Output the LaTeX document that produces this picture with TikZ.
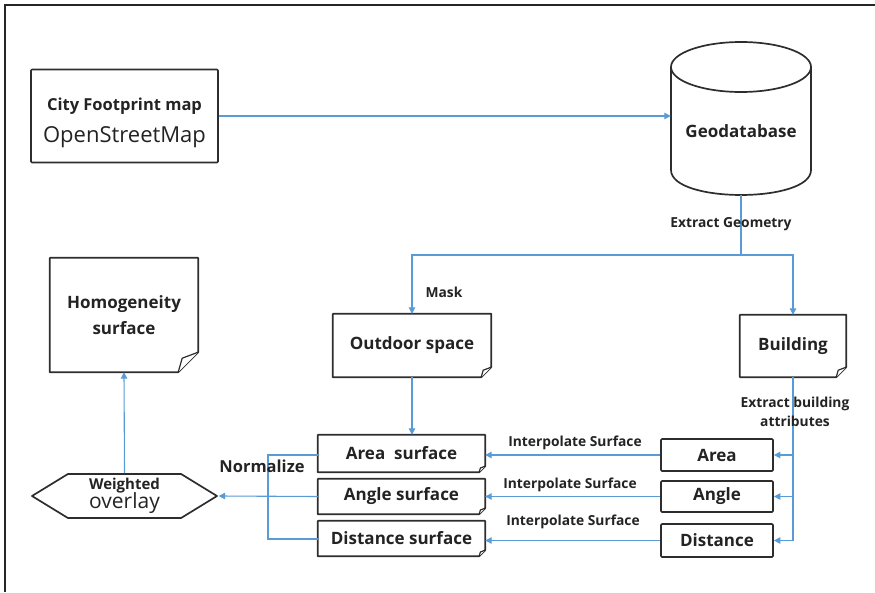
\documentclass[tikz,border=0pt]{standalone}
\usepackage{fontspec}
\setmainfont{Open Sans}
\usetikzlibrary{arrows.meta,calc,shapes.symbols}
\definecolor{conncol}{RGB}{88,155,214}
\definecolor{boxcol}{RGB}{45,45,45}
\definecolor{txtcol}{RGB}{35,35,35}
\tikzset{
  boxline/.style={draw=boxcol,line width=1.7pt,line join=round},
  plainbox/.style={boxline,rounded corners=1pt,inner sep=0pt,text=txtcol,align=center,font=\bfseries\fontsize{17}{20}\selectfont},
  docnode/.style={inner sep=0pt,text=txtcol,align=center,font=\bfseries\fontsize{17}{21}\selectfont},
  conn/.style={draw=conncol,line width=1.1pt},
  arr/.style={conn,-{Triangle[length=6.5pt,width=6.5pt]}},
  lbl/.style={text=txtcol,font=\bfseries\fontsize{13.8}{19}\selectfont,inner sep=0pt,align=center},
}
\newcommand\docframe[2]{%
  \draw[boxline] (#1.north west) -- (#1.north east) -- ([yshift=#2]#1.south east)
     -- ([xshift=-#2]#1.south east) -- (#1.south west) -- cycle;
  \draw[boxline,line width=1.2pt,fill=white] ([xshift=-#2]#1.south east)
     -- ([xshift=-0.8*#2,yshift=0.7*#2]#1.south east) -- ([yshift=#2]#1.south east);
}
\begin{document}
\begin{tikzpicture}[x=1pt,y=-1pt]
\useasboundingbox (0,0) rectangle (875,592);
% frame
\draw[line width=2pt,draw=black!85] (875,5) -- (5,5) -- (5,592);

% top row
\node[plainbox,minimum width=187pt,minimum height=93pt] (city) at (124.5,116)
  {\fontsize{16.5}{19}\selectfont \raisebox{0pt}[27pt]{City Footprint map}\\[12pt]
   {\mdseries\fontsize{22}{24}\selectfont OpenStreetMap}};
\node[minimum width=140pt,minimum height=153pt,inner sep=0pt] (geo) at (741,118.5) {};
\draw[boxline] (741,67) ellipse [x radius=70, y radius=25];
\draw[boxline] (671,67) -- (671,170) .. controls (671,203.3) and (811,203.3) .. (811,170) -- (811,67);
\node[docnode] (geolabel) at (741,131) {Geodatabase};

% middle row
\node[docnode,minimum width=148pt,minimum height=114pt] (homog) at (124,315) {Homogeneity\\[5pt]surface};
\docframe{homog}{20pt}
\node[docnode,minimum width=158pt,minimum height=63pt] (outdoor) at (412,345.5) {Outdoor space};
\docframe{outdoor}{10pt}
\node[docnode,minimum width=106pt,minimum height=62pt] (building) at (793,346) {Building};
\docframe{building}{10pt}

% surfaces
\node[docnode,minimum width=167pt,minimum height=37pt] (areaS) at (401.5,453.5) {Area\ \ surface};
\docframe{areaS}{6pt}
\node[docnode,minimum width=167pt,minimum height=35pt] (angleS) at (401.5,496.5) {Angle surface};
\docframe{angleS}{6pt}
\node[docnode,minimum width=167pt,minimum height=35pt] (distS) at (401.5,538.5) {Distance surface};
\docframe{distS}{6pt}

% attribute boxes
\node[plainbox,minimum width=112pt,minimum height=32pt] (area) at (717,455) {Area};
\node[plainbox,minimum width=112pt,minimum height=31pt] (angle) at (717,496.5) {Angle};
\node[plainbox,minimum width=112pt,minimum height=33pt] (dist) at (717,540.5) {Distance};

% weighted overlay
\node[shape=signal,signal to=west and east,signal pointer angle=63,boxline,
      minimum width=185pt,minimum height=44pt,inner sep=0pt,align=center,text=txtcol] (hex) at (124.5,496)
  {\bfseries\fontsize{15}{13}\selectfont Weighted\\[-2pt]{\mdseries\fontsize{21}{18}\selectfont overlay}};

% connectors
\draw[arr] (city.east) -- (geo.west |- city.east);
\coordinate (split) at (741,255);
\draw[conn] (geo.south) -- (split);
\draw[arr] (split) -| (outdoor.north);
\draw[arr] (split) -| (building.north);
\node[lbl] at (731,224) {Extract Geometry};
\node[lbl] at (444,292) {Mask};
\draw[arr] (outdoor.south) -- (outdoor.south |- areaS.north);

\draw[conn] (building.south) -- (building.south |- dist.east);
\draw[arr] (building.south |- area.east) -- (area.east);
\draw[arr] (building.south |- angle.east) -- (angle.east);
\draw[arr] (building.south |- dist.east) -- (dist.east);
\node[lbl] at (795,412) {Extract building\\attributes};

\draw[arr] (area.west) -- (area.west -| areaS.east);
\draw[arr] (angle.west) -- (angle.west -| angleS.east);
\draw[arr] (dist.west) -- (dist.west -| distS.east);
\node[lbl] at (575,443) {Interpolate Surface};
\node[lbl] at (570,485) {Interpolate Surface};
\node[lbl] at (573,522) {Interpolate Surface};

\coordinate (busT) at (268,455);
\coordinate (busB) at (268,539);
\draw[conn] (areaS.west |- busT) -- (busT) -- (busB) -- (distS.west |- busB);
\draw[arr] (angleS.west) -- (hex.east);
\node[lbl,font=\bfseries\fontsize{16.5}{18}\selectfont] at (262,466) {Normalize};

\draw[arr] (hex.north) -- (homog.south);
\end{tikzpicture}
\end{document}
